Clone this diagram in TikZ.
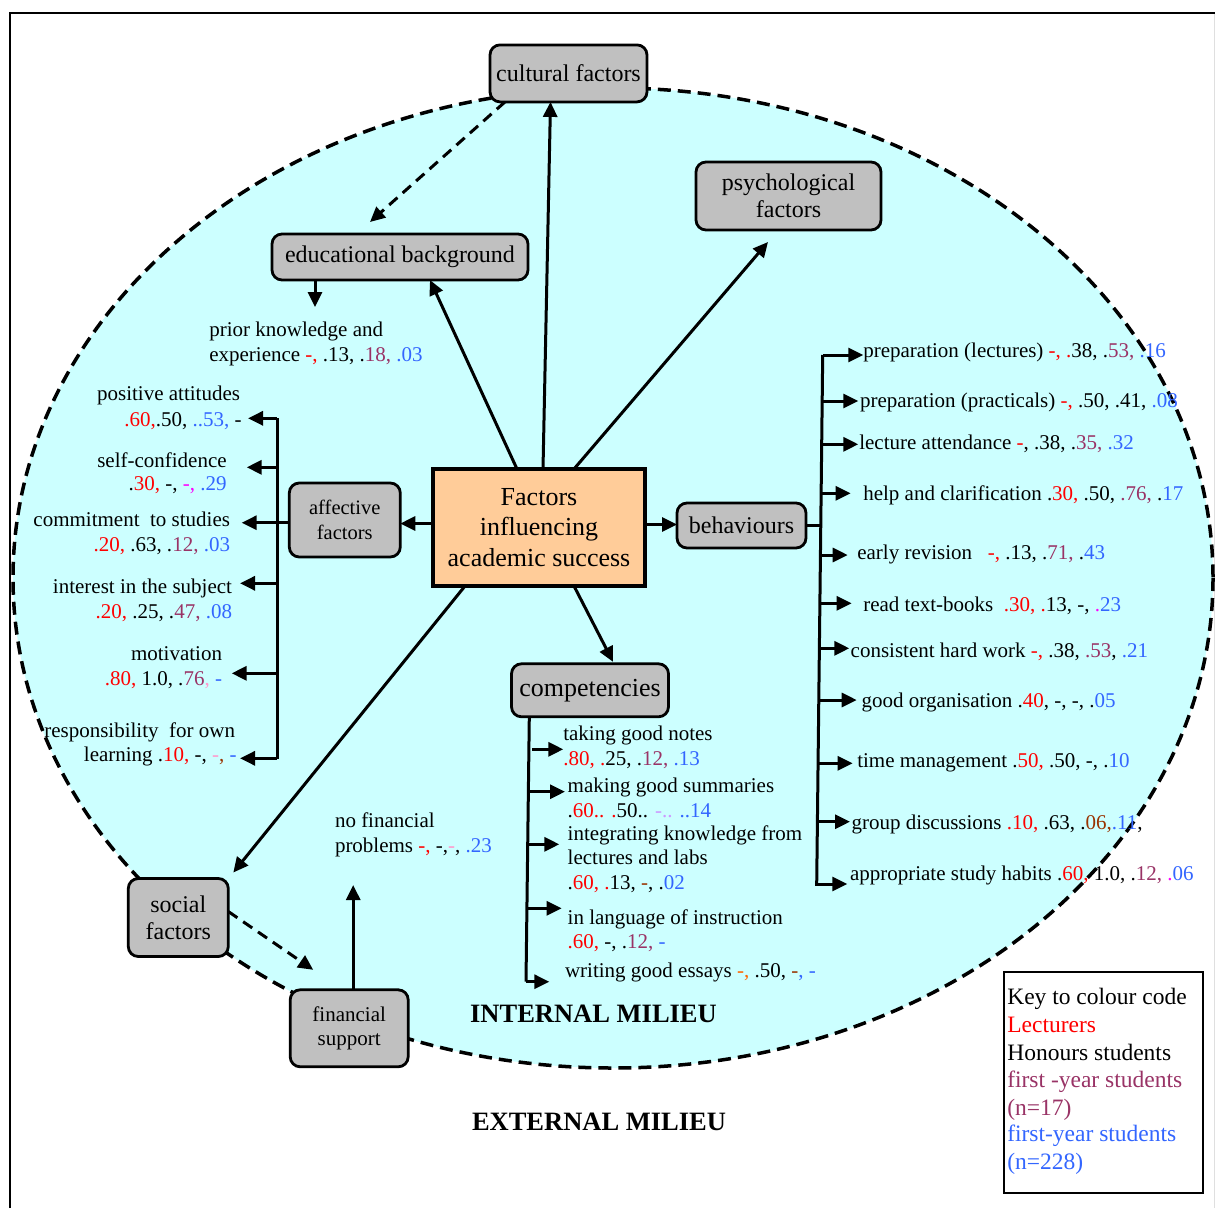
\documentclass[tikz,border=0pt]{standalone}
\usepackage{fontspec}
\setmainfont{Liberation Serif}
\usetikzlibrary{arrows.meta}

\definecolor{milieu}{HTML}{CCFFFF}
\definecolor{boxgray}{HTML}{C0C0C0}
\definecolor{coreorange}{HTML}{FFCC99}
\definecolor{vred}{HTML}{FF0000}
\definecolor{vplum}{HTML}{993366}
\definecolor{vblue}{HTML}{3366FF}
\definecolor{vmag}{HTML}{FF00FF}
\definecolor{vpink}{HTML}{FF99CC}
\definecolor{vbrown}{HTML}{993300}
\definecolor{vorange}{HTML}{FF6600}
\definecolor{vlav}{HTML}{CC99FF}

% respondent groups
\newcommand\lec[1]{\textcolor{vred}{#1}}
\newcommand\fys[1]{\textcolor{vplum}{#1}}
\newcommand\fyb[1]{\textcolor{vblue}{#1}}
\newcommand\mgt[1]{\textcolor{vmag}{#1}}
\newcommand\pnk[1]{\textcolor{vpink}{#1}}
\newcommand\brn[1]{\textcolor{vbrown}{#1}}
\newcommand\org[1]{\textcolor{vorange}{#1}}
\newcommand\lav[1]{\textcolor{vlav}{#1}}
\newcommand\fsz[2]{\fontsize{#1}{#2}\selectfont}

\tikzset{
  every node/.style={inner sep=0pt, outer sep=0pt},
  box/.style={draw, line width=2.8pt, rounded corners=10pt, fill=boxgray, align=center},
  core/.style={draw, line width=4pt, fill=coreorange, align=center, font=\fsz{26}{30.5}},
  item/.style={font=\fsz{21}{25}, anchor=base west},
  itemr/.style={font=\fsz{21}{25}, anchor=base east},
  keytext/.style={font=\fsz{23.5}{27}, anchor=base west},
  arr/.style={line width=3pt, -{Triangle[length=15pt,width=14pt]}},
  darr/.style={arr, dash pattern=on 11pt off 7pt},
  bus/.style={line width=3pt},
}

\begin{document}
\begin{tikzpicture}[x=1pt, y=-1pt]
\useasboundingbox (0,0) rectangle (1215,1208);

% outer frame
\draw[line width=2.8pt] (10,1208) -- (10,13) -- (1215,13);
\draw[gray!25, line width=1pt] (1214,14) -- (1214,1208);

% internal milieu
\draw[fill=milieu, line width=3.5pt, dash pattern=on 13pt off 7pt]
  (613,578) ellipse [x radius=600, y radius=490];

% factor boxes
\node[core, minimum width=212pt, minimum height=117pt] (core) at (539,527.5)
  {Factors\\influencing\\academic success};
\node[box, font=\fsz{24}{27}, minimum width=157pt, minimum height=57pt] (cult) at (568.5,73.4) {cultural factors};
\node[box, font=\fsz{24}{27}, minimum width=185pt, minimum height=68pt] (psych) at (788.5,196) {psychological\\factors};
\node[box, font=\fsz{24}{27}, minimum width=256pt, minimum height=46pt] (edu) at (400,257) {educational background};
\node[box, font=\fsz{20.5}{25}, minimum width=111pt, minimum height=74pt] (aff) at (344.8,520) {affective\\factors};
\node[box, font=\fsz{24}{27}, minimum width=129pt, minimum height=45pt] (beh) at (741.5,525.5) {behaviours};
\node[box, font=\fsz{26}{28}, minimum width=157pt, minimum height=53pt] (comp) at (590,690.3) {\raisebox{-2pt}{competencies}};
\node[box, font=\fsz{24}{27}, minimum width=100pt, minimum height=78pt] (soc) at (178.3,917.5) {social\\factors};
\node[box, font=\fsz{21}{24}, minimum width=118pt, minimum height=77pt] (fin) at (349.2,1028.3) {financial\\support};

% links from the central box
\draw[arr] ([xshift=4pt]core.north) -- ([xshift=-18pt]cult.south);
\draw[arr] ([xshift=-22pt]core.north) -- ([xshift=30pt]edu.south);
\draw[arr] ([xshift=35pt]core.north) -- ([xshift=-20.5pt,yshift=-12pt]psych.south);
\draw[arr] ([yshift=4pt]core.west) -- ([yshift=4pt]core.west -| aff.east);
\draw[arr] ([yshift=3pt]core.east) -- ([yshift=3pt]core.east -| beh.west);
\draw[arr] ([xshift=35pt]core.south) -- ([xshift=23pt,yshift=2pt]comp.north);
\draw[arr] ([xshift=-74pt]core.south) -- ([xshift=5pt,yshift=6pt]soc.north east);

% dashed influences
\draw[darr] ([xshift=15pt]cult.south west) -- ([xshift=-30pt,yshift=12pt]edu.north);
\draw[darr] ([yshift=6pt]soc.east) -- ([xshift=23pt,yshift=20pt]fin.north west);

% financial support -> no financial problems
\coordinate (fintip) at (353.2,885);
\draw[arr] (fin.north -| fintip) -- (fintip);

% educational background -> prior knowledge
\draw[arr] ([xshift=-85pt]edu.south) -- ++(0,27);

% affective factors bus
\coordinate (abusT) at (277,418.3);
\coordinate (abusB) at (277,758.5);
\draw[bus] (abusT) -- (abusB);
\draw[bus] ([yshift=-2.7pt]aff.west) -- ([yshift=-2.7pt]aff.west -| abusT);
\foreach \y/\t in {418.3/248, 467.3/246.7, 522.7/241.7, 583.3/240, 673.3/231.7, 758.3/240}
  \draw[arr] (277,\y) -- (\t,\y);

% behaviours bus
\coordinate (bbusT) at (822.7,355);
\coordinate (bbusB) at (816.7,884);
\draw[bus] (bbusT) -- (bbusB);
\draw[bus] ([yshift=-0.2pt]beh.east) -- (820.8,525.7);
\foreach \s/\y/\t in {822.7/355/863.3, 822.2/401/858.3, 821.7/444.3/858.3, 821.1/493.3/850.7,
  820.4/555/847.7, 819.9/603.3/851.7, 819.4/648.3/849.3, 818.8/700/856.7,
  818.1/763.3/852.7, 817.4/821.7/850, 815/884/847.3}
  \draw[arr] (\s,\y) -- (\t,\y);

% competencies bus
\coordinate (cbusB) at (526,981.7);
\draw[bus] ([xshift=-60.7pt]comp.south) -- (cbusB);
\foreach \s/\y/\t in {532.3/749.3/563.3, 529/791.7/565, 528/844.3/559.3, 527/908.3/561.7, 526/981.7/549.3}
  \draw[arr] (\s,\y) -- (\t,\y);

% educational background item
\node[item] (pk1) at (209.3,336) {prior knowledge and};
\node[item] (pk2) at (209.3,361.7) {experience \lec{-, }.13, .\fys{18, }\fyb{.03}};

% affective factor items
\node[itemr] (pa1) at (240,400.7) {positive attitudes};
\node[itemr] (pa2) at (241.7,426.7) {\lec{.60,}.50, \fyb{..53, }-};
\node[itemr] (sc1) at (226.7,467.3) {self-confidence};
\node[itemr] (sc2) at (226.7,490.7) {.\lec{30, }-, \mgt{-, }\fyb{.29}};
\node[itemr] (cm1) at (230,526.7) {commitment\ \ to studies};
\node[itemr] (cm2) at (230,551.7) {\lec{.20, }.63, .\fys{12, }\fyb{.03}};
\node[itemr] (in1) at (232,593.3) {interest in the subject};
\node[itemr] (in2) at (232,618.3) {\lec{.20, }.25, .\fys{47, }\fyb{.08}};
\node[itemr] (mo1) at (222,660) {motivation};
\node[itemr] (mo2) at (222,685) {\lec{.80, }1.0, .\fys{76}\pnk{, }\fyb{-}};
\node[itemr] (re1) at (235,737.7) {responsibility\ \ for own};
\node[itemr] (re2) at (236.7,761.7) {learning .\lec{10, }-, \pnk{-}\brn{, }\fyb{-}};

% behaviour items
\node[item] (b1) at (863.3,357.5) {preparation (lectures) \lec{-, .}38, .\fys{53, }\fyb{.16}};
\node[item] (b2) at (860,407.3) {preparation (practicals) \lec{-, }.50, .41, \fyb{.08}};
\node[item] (b3) at (859.3,449.3) {lecture attendance \lec{-}, .38, .\fys{35, }\fyb{.32}};
\node[item] (b4) at (863.3,500) {help and clarification .\lec{30, }.50, \fys{.76, }.\fyb{17}};
\node[item] (b5) at (857.3,559.3) {early revision\ \ \ \lec{-, }.13, .\fys{71, }.\fyb{43}};
\node[item] (b6) at (863.3,611) {read text-books\ \ \lec{.30, .}13, -, \mgt{.}\fyb{23}};
\node[item] (b7) at (850.7,657.3) {consistent hard work \lec{-, }.38, \fys{.53}, \fyb{.21}};
\node[item] (b8) at (861.7,707.3) {good organisation .\lec{40}, -, -, .\fyb{05}};
\node[item] (b9) at (857.3,767.3) {time management .\lec{50, }.50, -, .\fyb{10}};
\node[item] (b10) at (851.7,829.3) {group discussions \lec{.10, }.63, .\brn{06,}\fyb{.11},};
\node[item] (b11) at (850,880) {appropriate study habits .\lec{60, }1.0, .\fys{12, }\mgt{.}\fyb{06}};

% competency items
\node[item] (c1a) at (563.3,740) {taking good notes};
\node[item] (c1b) at (563.3,765) {\lec{.80, .}25, .\fys{12, }\fyb{.13}};
\node[item] (c2a) at (567.7,792.7) {making good summaries};
\node[item] (c2b) at (567.7,817.3) {.\lec{60.. .}50.. \lav{-.. }\fyb{..14}};
\node[item] (c3a) at (567.7,840) {integrating knowledge from};
\node[item] (c3b) at (567.7,864.3) {lectures and labs};
\node[item] (c3c) at (567.7,889.3) {.\lec{60, .}13, \brn{-}, .\fyb{02}};
\node[item] (c4a) at (567.7,924.3) {in language of instruction};
\node[item] (c4b) at (567.7,948.3) {\lec{.60, }-, .\fys{12, }\fyb{-}};
\node[item] (c5) at (565,977.3) {writing good essays \org{-, }.50, \brn{-}\fyb{, -}};

% financial support item
\node[item] (nf1) at (335,827) {no financial};
\node[item] (nf2) at (335,852.7) {problems \lec{-, }-,\pnk{-}, \fyb{.23}};

% milieu labels
\node[font=\fsz{26.5}{30}\bfseries, anchor=base] (intm) at (593.5,1022.5) {INTERNAL MILIEU};
\node[font=\fsz{26.5}{30}\bfseries, anchor=base] (extm) at (599,1130.5) {EXTERNAL MILIEU};

% colour key
\node[draw, line width=2pt, fill=white, minimum width=198.7pt, minimum height=221pt, anchor=north west] (key) at (1004,971.7) {};
\node[keytext] (k1) at (1007.3,1004.3) {Key to colour code};
\node[keytext, text=vred] (k2) at (1007.3,1032.7) {Lecturers};
\node[keytext] (k3) at (1007.3,1060) {Honours students};
\node[keytext, text=vplum] (k4) at (1007.3,1087.7) {first -year students};
\node[keytext, text=vplum] (k5) at (1007.3,1115) {(n=17)};
\node[keytext, text=vblue] (k6) at (1007.3,1141.7) {first-year students};
\node[keytext, text=vblue] (k7) at (1007.3,1169) {(n=228)};
\end{tikzpicture}
\end{document}
